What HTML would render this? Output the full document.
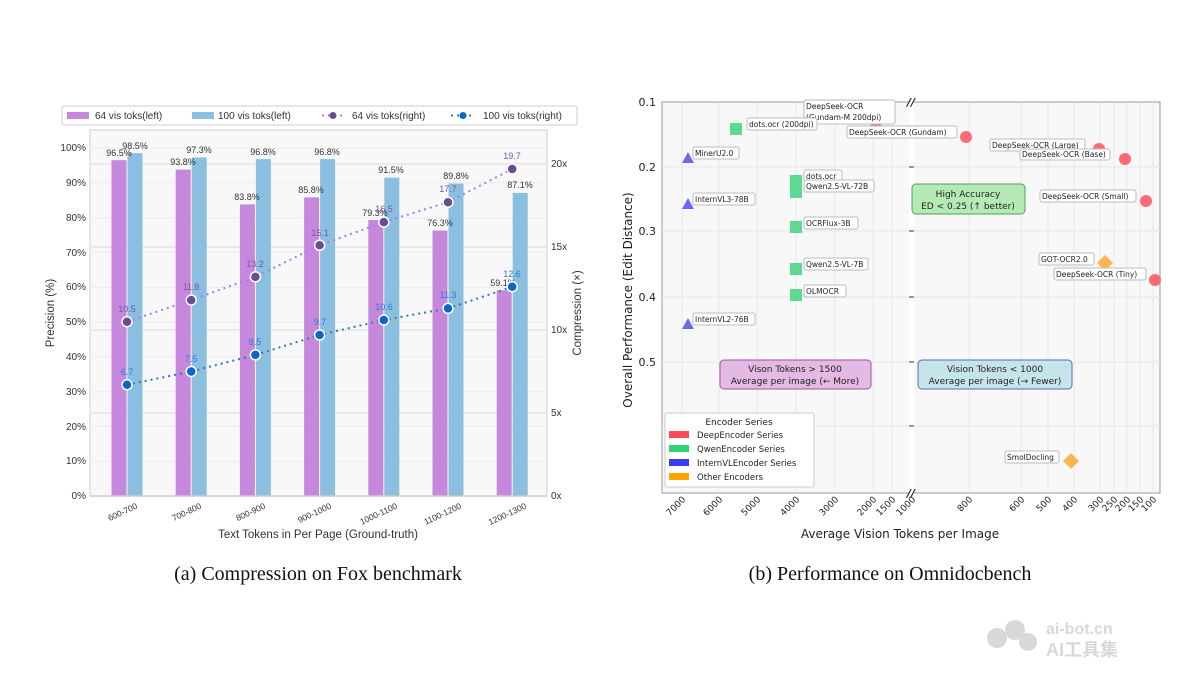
<!DOCTYPE html>
<html><head><meta charset="utf-8"><style>
html,body{margin:0;padding:0;background:#fff;}
svg{display:block;}
.s{font-family:"Liberation Sans",sans-serif;}
.d{font-family:"DejaVu Sans","Liberation Sans",sans-serif;}
</style></head><body>
<svg width="1200" height="675" viewBox="0 0 1200 675" xmlns="http://www.w3.org/2000/svg">
<rect width="1200" height="675" fill="#fff"/>
<!-- LEFT CHART -->
<g class="s">
<rect x="90" y="130" width="457" height="366" fill="#f8f8f8" stroke="#ccc"/>
<g stroke="#ececec" stroke-width="1">
<line x1="90" x2="547" y1="461.2" y2="461.2"/><line x1="90" x2="547" y1="426.4" y2="426.4"/>
<line x1="90" x2="547" y1="391.6" y2="391.6"/><line x1="90" x2="547" y1="356.8" y2="356.8"/>
<line x1="90" x2="547" y1="322" y2="322"/><line x1="90" x2="547" y1="287.2" y2="287.2"/>
<line x1="90" x2="547" y1="252.4" y2="252.4"/><line x1="90" x2="547" y1="217.6" y2="217.6"/>
<line x1="90" x2="547" y1="182.8" y2="182.8"/><line x1="90" x2="547" y1="148" y2="148"/>
</g>
<g stroke="#e4e4e4" stroke-width="1.5">
<line x1="90" x2="547" y1="413" y2="413"/><line x1="90" x2="547" y1="330" y2="330"/>
<line x1="90" x2="547" y1="247" y2="247"/><line x1="90" x2="547" y1="164" y2="164"/>
</g>
<g fill="#c688dd">
<rect x="111.5" y="160.2" width="15" height="335.8"/><rect x="175.7" y="169.6" width="15" height="326.4"/>
<rect x="239.9" y="204.4" width="15" height="291.6"/><rect x="304.1" y="197.4" width="15" height="298.6"/>
<rect x="368.3" y="220" width="15" height="276"/><rect x="432.5" y="230.5" width="15" height="265.5"/>
<rect x="496.7" y="290.3" width="15" height="205.7"/>
</g>
<g fill="#8bbfdf">
<rect x="127.5" y="153.2" width="15" height="342.8"/><rect x="191.7" y="157.4" width="15" height="338.6"/>
<rect x="255.9" y="159.1" width="15" height="336.9"/><rect x="320.1" y="159.1" width="15" height="336.9"/>
<rect x="384.3" y="177.6" width="15" height="318.4"/><rect x="448.5" y="183.5" width="15" height="312.5"/>
<rect x="512.7" y="192.9" width="15" height="303.1"/>
</g>
<line x1="90" x2="547" y1="496" y2="496" stroke="#ccc" stroke-width="1.5"/>
<g font-size="9" fill="#333" text-anchor="middle">
<text x="119" y="156">96.5%</text><text x="135" y="149">98.5%</text>
<text x="183" y="165">93.8%</text><text x="199" y="153">97.3%</text>
<text x="247" y="200">83.8%</text><text x="263" y="155">96.8%</text>
<text x="311" y="193">85.8%</text><text x="327" y="155">96.8%</text>
<text x="375" y="216">79.3%</text><text x="391" y="173">91.5%</text>
<text x="440" y="226">76.3%</text><text x="456" y="179">89.8%</text>
<text x="503" y="286">59.1%</text><text x="520" y="188">87.1%</text>
</g>
<polyline points="127,321.7 191.2,300.1 255.4,276.9 319.6,245.3 383.8,222.1 448,202.2 512.2,169" fill="none" stroke="#9b7ff0" stroke-width="2" stroke-dasharray="2,4"/>
<polyline points="127,384.8 191.2,371.5 255.4,354.9 319.6,335 383.8,320 448,308.4 512.2,286.8" fill="none" stroke="#3a75b0" stroke-width="2" stroke-dasharray="2,4"/>
<g fill="#6a4c93" stroke="#fff" stroke-width="1.5">
<circle cx="127" cy="321.7" r="5"/><circle cx="191.2" cy="300.1" r="5"/><circle cx="255.4" cy="276.9" r="5"/>
<circle cx="319.6" cy="245.3" r="5"/><circle cx="383.8" cy="222.1" r="5"/><circle cx="448" cy="202.2" r="5"/><circle cx="512.2" cy="169" r="5"/>
</g>
<g fill="#0a66cc" stroke="#fff" stroke-width="1.5">
<circle cx="127" cy="384.8" r="5"/><circle cx="191.2" cy="371.5" r="5"/><circle cx="255.4" cy="354.9" r="5"/>
<circle cx="319.6" cy="335" r="5"/><circle cx="383.8" cy="320" r="5"/><circle cx="448" cy="308.4" r="5"/><circle cx="512.2" cy="286.8" r="5"/>
</g>
<g font-size="9" fill="#7a55a8" text-anchor="middle">
<text x="127" y="312">10.5</text><text x="191" y="290">11.8</text><text x="255" y="267">13.2</text>
<text x="320" y="236">15.1</text><text x="384" y="212">16.5</text><text x="448" y="192">17.7</text><text x="512" y="159">19.7</text>
</g>
<g font-size="9" fill="#2a7de1" text-anchor="middle">
<text x="127" y="375">6.7</text><text x="191" y="362">7.5</text><text x="255" y="345">8.5</text>
<text x="320" y="325">9.7</text><text x="384" y="310">10.6</text><text x="448" y="298">11.3</text><text x="512" y="277">12.6</text>
</g>
<g font-size="10" fill="#333" text-anchor="end">
<text x="86" y="499">0%</text><text x="86" y="464">10%</text><text x="86" y="430">20%</text><text x="86" y="395">30%</text>
<text x="86" y="360">40%</text><text x="86" y="325">50%</text><text x="86" y="290">60%</text><text x="86" y="256">70%</text>
<text x="86" y="221">80%</text><text x="86" y="186">90%</text><text x="86" y="151">100%</text>
</g>
<g font-size="10" fill="#333">
<text x="551" y="499">0x</text><text x="551" y="416">5x</text><text x="551" y="333">10x</text>
<text x="551" y="250">15x</text><text x="551" y="167">20x</text>
</g>
<g font-size="8.5" fill="#333" text-anchor="end">
<text transform="translate(138,508) rotate(-25)">600-700</text>
<text transform="translate(202,508) rotate(-25)">700-800</text>
<text transform="translate(266,508) rotate(-25)">800-900</text>
<text transform="translate(332,508) rotate(-25)">900-1000</text>
<text transform="translate(398,508) rotate(-25)">1000-1100</text>
<text transform="translate(462,508) rotate(-25)">1100-1200</text>
<text transform="translate(527,508) rotate(-25)">1200-1300</text>
</g>
<text x="318" y="538" font-size="11.5" fill="#333" text-anchor="middle">Text Tokens in Per Page (Ground-truth)</text>
<text transform="translate(54,313) rotate(-90)" font-size="11.5" fill="#333" text-anchor="middle">Precision (%)</text>
<text transform="translate(581,313) rotate(-90)" font-size="11.5" fill="#333" text-anchor="middle">Compression (×)</text>
<rect x="62" y="106" width="515" height="19" fill="#fff" stroke="#ccc" rx="2"/>
<rect x="67" y="112" width="22" height="7" fill="#c688dd"/>
<text x="95" y="119" font-size="10" fill="#333">64 vis toks(left)</text>
<rect x="192" y="112" width="22" height="7" fill="#8bbfdf"/>
<text x="218" y="119" font-size="10" fill="#333">100 vis toks(left)</text>
<line x1="322" x2="345" y1="115.5" y2="115.5" stroke="#9b7ff0" stroke-width="2" stroke-dasharray="2,4"/>
<circle cx="333" cy="115.5" r="3.5" fill="#6a4c93"/>
<text x="352" y="119" font-size="10" fill="#333">64 vis toks(right)</text>
<line x1="451" x2="474" y1="115.5" y2="115.5" stroke="#3a75b0" stroke-width="2" stroke-dasharray="2,4"/>
<circle cx="463" cy="115.5" r="3.5" fill="#0a66cc"/>
<text x="483" y="119" font-size="10" fill="#333">100 vis toks(right)</text>
</g>

<!-- RIGHT CHART -->
<g class="d">
<rect x="662" y="102" width="498" height="391" fill="#f8f8f8" stroke="#999"/>
<g stroke="#e8e8e8">
<line x1="682" x2="682" y1="102" y2="493"/><line x1="719" x2="719" y1="102" y2="493"/><line x1="757" x2="757" y1="102" y2="493"/>
<line x1="796" x2="796" y1="102" y2="493"/><line x1="835" x2="835" y1="102" y2="493"/><line x1="873" x2="873" y1="102" y2="493"/>
<line x1="892" x2="892" y1="102" y2="493"/><line x1="969" x2="969" y1="102" y2="493"/><line x1="1021" x2="1021" y1="102" y2="493"/>
<line x1="1048" x2="1048" y1="102" y2="493"/><line x1="1074" x2="1074" y1="102" y2="493"/><line x1="1100" x2="1100" y1="102" y2="493"/>
<line x1="1114" x2="1114" y1="102" y2="493"/><line x1="1127" x2="1127" y1="102" y2="493"/><line x1="1140" x2="1140" y1="102" y2="493"/>
<line x1="1153" x2="1153" y1="102" y2="493"/>
<line x1="662" x2="1160" y1="167" y2="167"/><line x1="662" x2="1160" y1="231" y2="231"/>
<line x1="662" x2="1160" y1="297" y2="297"/><line x1="662" x2="1160" y1="362" y2="362"/><line x1="662" x2="1160" y1="426" y2="426"/>
</g>
<rect x="909" y="100" width="5" height="395" fill="#fff"/>
<g stroke="#333"><line x1="909" x2="914" y1="167" y2="167"/><line x1="909" x2="914" y1="231" y2="231"/>
<line x1="909" x2="914" y1="297" y2="297"/><line x1="909" x2="914" y1="362" y2="362"/><line x1="909" x2="914" y1="426" y2="426"/></g>
<text x="911" y="106" font-size="11" font-style="italic" font-weight="bold" text-anchor="middle" fill="#222">//</text>
<text x="911" y="497" font-size="11" font-style="italic" font-weight="bold" text-anchor="middle" fill="#222">//</text>
<g font-size="11" fill="#222" text-anchor="end">
<text x="656" y="106">0.1</text><text x="656" y="171">0.2</text><text x="656" y="235">0.3</text>
<text x="656" y="301">0.4</text><text x="656" y="366">0.5</text>
</g>
<text transform="translate(632,300) rotate(-90)" font-size="12" fill="#222" text-anchor="middle">Overall Performance (Edit Distance)</text>
<g font-size="9" fill="#222" text-anchor="end">
<text transform="translate(686,500) rotate(-45)">7000</text><text transform="translate(723,500) rotate(-45)">6000</text>
<text transform="translate(761,500) rotate(-45)">5000</text><text transform="translate(800,500) rotate(-45)">4000</text>
<text transform="translate(839,500) rotate(-45)">3000</text><text transform="translate(877,500) rotate(-45)">2000</text>
<text transform="translate(896,500) rotate(-45)">1500</text><text transform="translate(916,500) rotate(-45)">1000</text>
<text transform="translate(973,500) rotate(-45)">800</text><text transform="translate(1025,500) rotate(-45)">600</text>
<text transform="translate(1052,500) rotate(-45)">500</text><text transform="translate(1078,500) rotate(-45)">400</text>
<text transform="translate(1104,500) rotate(-45)">300</text><text transform="translate(1118,500) rotate(-45)">250</text>
<text transform="translate(1131,500) rotate(-45)">200</text><text transform="translate(1144,500) rotate(-45)">150</text>
<text transform="translate(1157,500) rotate(-45)">100</text>
</g>
<text x="900" y="538" font-size="12" fill="#222" text-anchor="middle">Average Vision Tokens per Image</text>
<!-- region boxes -->
<rect x="720" y="360" width="151" height="29" rx="4" fill="#e4b9e4" stroke="#a050a0"/>
<text x="795" y="372" font-size="9" text-anchor="middle" fill="#222">Vison Tokens &gt; 1500</text>
<text x="795" y="384" font-size="9" text-anchor="middle" fill="#222">Average per image (← More)</text>
<rect x="918" y="360" width="154" height="29" rx="4" fill="#c6e4ec" stroke="#5070b0"/>
<text x="995" y="372" font-size="9" text-anchor="middle" fill="#222">Vision Tokens &lt; 1000</text>
<text x="995" y="384" font-size="9" text-anchor="middle" fill="#222">Average per image (→ Fewer)</text>
<rect x="912" y="184" width="113" height="30" rx="4" fill="#b5eab5" stroke="#50a050"/>
<text x="968" y="197" font-size="9" text-anchor="middle" fill="#222">High Accuracy</text>
<text x="968" y="209" font-size="9" text-anchor="middle" fill="#222">ED &lt; 0.25 (↑ better)</text>
<!-- markers -->
<g fill="#ff5a66" opacity="0.9">
<circle cx="876" cy="128" r="6"/><circle cx="966" cy="137" r="6"/><circle cx="1099" cy="149" r="6"/>
<circle cx="1125" cy="159" r="6"/><circle cx="1146" cy="201" r="6"/><circle cx="1155" cy="280" r="6"/>
</g>
<g fill="#4ed68a" opacity="0.9">
<rect x="730" y="123" width="12" height="12"/><rect x="790" y="175" width="12" height="12"/>
<rect x="790" y="186" width="12" height="12"/><rect x="790" y="221" width="12" height="12"/>
<rect x="790" y="263" width="12" height="12"/><rect x="790" y="289" width="12" height="12"/>
</g>
<g fill="#5a5af5" opacity="0.9">
<polygon points="688,152 682,163 694,163"/><polygon points="688,198 682,209 694,209"/><polygon points="688,318 682,329 694,329"/>
</g>
<g fill="#ffac40" opacity="0.9">
<polygon points="1105,255 1113,263 1105,271 1097,263"/><polygon points="1071,453 1079,461 1071,469 1063,461"/>
</g>
<!-- point labels -->
<g font-size="7.5" fill="#222">
<rect x="804" y="100" width="91" height="24" rx="2" fill="#fff" stroke="#bbb"/>
<text x="806" y="109">DeepSeek-OCR</text><text x="806" y="120">(Gundam-M 200dpi)</text>
<rect x="747" y="118" width="70" height="12" rx="2" fill="#fff" stroke="#bbb"/><text x="749" y="127">dots.ocr (200dpi)</text>
<rect x="847" y="126" width="110" height="12" rx="2" fill="#fff" stroke="#bbb"/><text x="849" y="135">DeepSeek-OCR (Gundam)</text>
<rect x="990" y="139" width="95" height="12" rx="2" fill="#fff" stroke="#bbb"/><text x="992" y="148">DeepSeek-OCR (Large)</text>
<rect x="1020" y="149" width="90" height="11" rx="2" fill="#fff" stroke="#bbb"/><text x="1022" y="157">DeepSeek-OCR (Base)</text>
<rect x="693" y="147" width="46" height="12" rx="2" fill="#fff" stroke="#bbb"/><text x="695" y="156">MinerU2.0</text>
<rect x="804" y="170" width="38" height="12" rx="2" fill="#fff" stroke="#bbb"/><text x="806" y="179">dots.ocr</text>
<rect x="804" y="180" width="70" height="12" rx="2" fill="#fff" stroke="#bbb"/><text x="806" y="189">Qwen2.5-VL-72B</text>
<rect x="1040" y="190" width="96" height="12" rx="2" fill="#fff" stroke="#bbb"/><text x="1042" y="199">DeepSeek-OCR (Small)</text>
<rect x="693" y="193" width="62" height="12" rx="2" fill="#fff" stroke="#bbb"/><text x="695" y="202">InternVL3-78B</text>
<rect x="804" y="217" width="54" height="12" rx="2" fill="#fff" stroke="#bbb"/><text x="806" y="226">OCRFlux-3B</text>
<rect x="804" y="258" width="64" height="12" rx="2" fill="#fff" stroke="#bbb"/><text x="806" y="267">Qwen2.5-VL-7B</text>
<rect x="1039" y="253" width="55" height="12" rx="2" fill="#fff" stroke="#bbb"/><text x="1041" y="262">GOT-OCR2.0</text>
<rect x="1054" y="268" width="92" height="12" rx="2" fill="#fff" stroke="#bbb"/><text x="1056" y="277">DeepSeek-OCR (Tiny)</text>
<rect x="804" y="285" width="42" height="12" rx="2" fill="#fff" stroke="#bbb"/><text x="806" y="294">OLMOCR</text>
<rect x="693" y="313" width="62" height="12" rx="2" fill="#fff" stroke="#bbb"/><text x="695" y="322">InternVL2-76B</text>
<rect x="1005" y="451" width="54" height="12" rx="2" fill="#fff" stroke="#bbb"/><text x="1007" y="460">SmolDocling</text>
</g>
<!-- legend -->
<rect x="665" y="413" width="149" height="74" rx="2" fill="#fff" stroke="#ccc"/>
<text x="739" y="425" font-size="9" text-anchor="middle" fill="#222">Encoder Series</text>
<rect x="669" y="431" width="20" height="7" fill="#ff4a5a"/><text x="697" y="438" font-size="8.5" fill="#222">DeepEncoder Series</text>
<rect x="669" y="445" width="20" height="7" fill="#2fd27a"/><text x="697" y="452" font-size="8.5" fill="#222">QwenEncoder Series</text>
<rect x="669" y="459" width="20" height="7" fill="#3a3af5"/><text x="697" y="466" font-size="8.5" fill="#222">InternVLEncoder Series</text>
<rect x="669" y="473" width="20" height="7" fill="#ffa500"/><text x="697" y="480" font-size="8.5" fill="#222">Other Encoders</text>
</g>

<!-- captions -->
<g font-family="'Liberation Serif',serif" font-size="20" fill="#111" text-anchor="middle">
<text x="318" y="580">(a)  Compression on Fox benchmark</text>
<text x="890" y="580">(b)  Performance on Omnidocbench</text>
</g>
<!-- watermark -->
<g fill="#d8d8d8" font-family="'Liberation Sans','Noto Sans CJK SC',sans-serif" font-weight="bold">
<circle cx="997" cy="638" r="10"/><circle cx="1015" cy="630" r="10"/><circle cx="1028" cy="642" r="9"/>
<text x="1046" y="634" font-size="16">ai-bot.cn</text>
<text x="1046" y="656" font-size="18">AI工具集</text>
</g>
</svg>
</body></html>
